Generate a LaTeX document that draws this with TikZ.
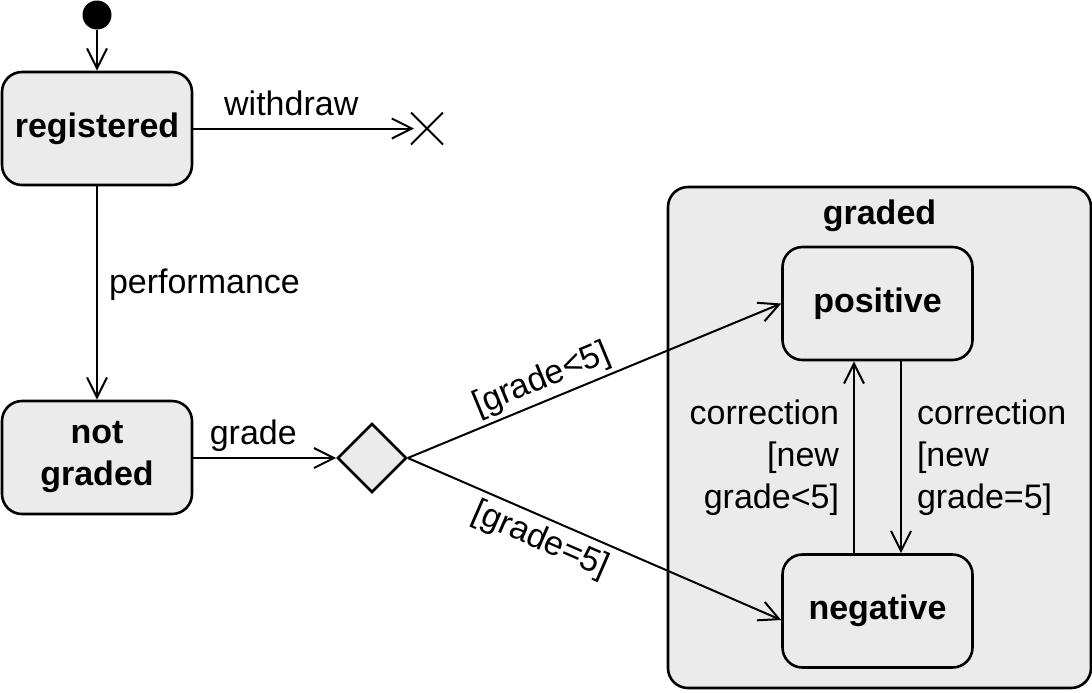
\documentclass[tikz,border=0pt]{standalone}
\usepackage{fontspec}
\setmainfont{Liberation Sans}
\usetikzlibrary{arrows.meta,shapes.geometric,shapes.misc}
\definecolor{statefill}{RGB}{235,235,235}
\begin{document}
\begin{tikzpicture}[x=0.5pt,y=-0.5pt,
  every node/.style={font=\fontsize{17}{21}\selectfont},
  state/.style={draw, line width=1.3pt, fill=statefill, rounded corners=10pt,
    minimum width=95pt, minimum height=56.5pt, inner sep=0pt,
    font=\fontsize{17}{21}\selectfont\bfseries, align=center},
  trans/.style={draw, line width=1pt, -{Straight Barb[length=10pt,width=10pt]}},
  lbl/.style={inner sep=0pt}
]
\useasboundingbox (0,0) rectangle (1092,692);
% composite state
\node[draw, fill=statefill, line width=1.3pt, rounded corners=10pt,
  minimum width=211.5pt, minimum height=250.5pt, inner sep=0pt] (graded) at (879.5,437.5) {};
\node[anchor=base, inner sep=0pt, font=\fontsize{17}{21}\selectfont\bfseries] (gradedtitle) at (879.5,224) {graded};
% states
\node[state] (reg) at (97,128.5) {registered};
\node[state] (ng) at (97,457.5) {not\\graded};
\node[state] (pos) at (877.5,303.5) {positive};
\node[state] (neg) at (877.5,611) {negative};
\node[circle, fill=black, minimum size=14.5pt, inner sep=0pt] (init) at (97,15) {};
\node[diamond, draw, fill=statefill, line width=1.3pt, minimum width=34.5pt,
  minimum height=34.5pt, inner sep=0pt, aspect=1] (dec) at (372,458) {};
\node[cross out, draw, line width=1pt, minimum size=15pt, inner sep=0pt] (term) at (427,128.5) {};
% transitions
\draw[trans] (init) -- (reg);
\draw[trans, shorten >=-1.5pt] (reg) -- node[lbl, pos=0.45, anchor=base, yshift=6.5pt] (lwd) {withdraw} (term.west);
\draw[trans] (reg) -- node[lbl, pos=0.5, anchor=base west, xshift=5.5pt] (lperf) {performance} (ng);
\draw[trans] (ng.east |- dec.west) -- node[lbl, pos=0.42, anchor=base, yshift=7pt] (lgr) {grade} (dec.west);
\draw[trans] (dec.east) -- node[lbl, pos=0.38, sloped, above=2pt] (llt) {[grade<5]} (pos.west);
\draw[trans] (dec.east) -- node[lbl, pos=0.38, sloped, below=3pt] (leq) {[grade=5]} ([yshift=-4.5pt]neg.west);
\draw[trans] ([xshift=-11.75pt]neg.north) -- node[lbl, pos=0.5, anchor=east, align=right, xshift=-7pt] (lc1) {correction\\{}[new\\grade<5]} ([xshift=-11.75pt]pos.south);
\draw[trans] ([xshift=11.75pt]pos.south) -- node[lbl, pos=0.5, anchor=west, align=left, xshift=7.5pt] (lc2) {correction\\{}[new\\grade=5]} ([xshift=11.75pt]neg.north);
\end{tikzpicture}
\end{document}
